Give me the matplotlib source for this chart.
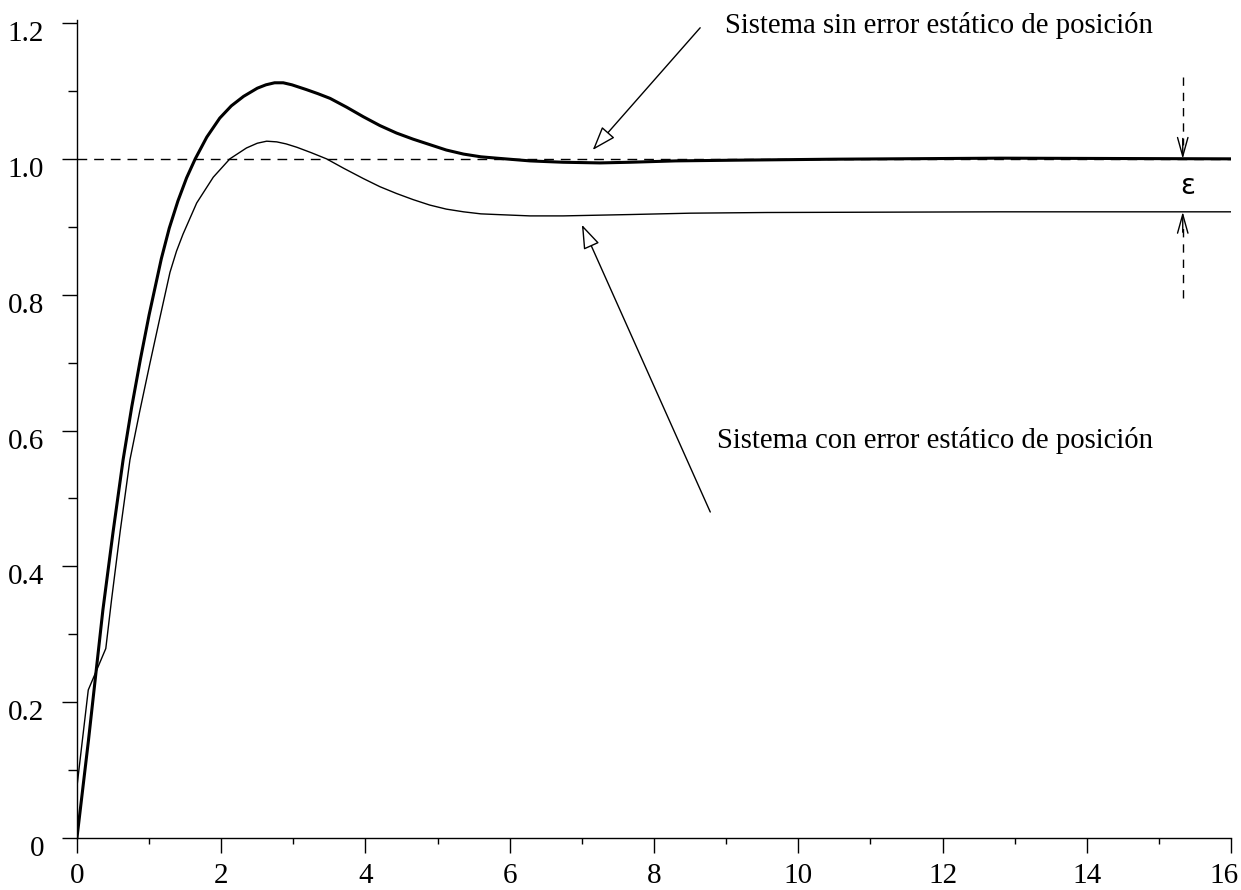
import matplotlib
matplotlib.use("Agg")
import matplotlib.pyplot as plt
import matplotlib.transforms as mtransforms

plt.rcParams['font.family'] = ['Liberation Serif', 'DejaVu Serif']

# respuesta del sistema sin error (trazo grueso)
t_sin = [0, 0.16, 0.36, 0.50, 0.64, 0.76, 0.88, 1.00, 1.17, 1.28, 1.40, 1.52,
         1.64, 1.80, 1.98, 2.14, 2.31, 2.50, 2.62, 2.74, 2.86, 2.98, 3.18, 3.34,
         3.51, 3.74, 3.97, 4.20, 4.43, 4.66, 4.89, 5.12, 5.36, 5.60, 5.82, 6.05,
         6.28, 6.50, 6.74, 7.00, 7.25, 7.67, 8.30, 9.10, 10.5, 12.8, 16]
y_sin = [0, 0.144, 0.336, 0.450, 0.557, 0.635, 0.705, 0.770, 0.853, 0.898, 0.938, 0.972,
         1.000, 1.032, 1.060, 1.078, 1.092, 1.104, 1.109, 1.112, 1.112, 1.109, 1.102, 1.096,
         1.089, 1.076, 1.062, 1.049, 1.038, 1.029, 1.021, 1.013, 1.007, 1.003, 1.001, 0.999,
         0.997, 0.996, 0.995, 0.9945, 0.994, 0.995, 0.997, 0.998, 0.9995, 1.001, 1.0]

# respuesta del sistema con error (trazo fino)
t_con = [0, 0.157, 0.40, 0.48, 0.60, 0.735, 0.87, 1.01, 1.15, 1.29, 1.38, 1.47,
         1.66, 1.89, 2.12, 2.35, 2.50, 2.63, 2.77, 2.90, 3.05, 3.25, 3.46, 3.70,
         3.97, 4.20, 4.43, 4.66, 4.89, 5.12, 5.36, 5.60, 5.82, 6.28, 6.74, 7.20,
         7.67, 8.50, 9.56, 12.8, 16]
y_con = [0.0755, 0.218, 0.279, 0.351, 0.452, 0.557, 0.628, 0.698, 0.766, 0.833, 0.864, 0.889,
         0.935, 0.973, 1.000, 1.016, 1.023, 1.026, 1.025, 1.022, 1.017, 1.009, 1.000, 0.986,
         0.971, 0.959, 0.949, 0.940, 0.932, 0.926, 0.922, 0.919, 0.918, 0.916, 0.916, 0.917,
         0.918, 0.920, 0.921, 0.922, 0.922]

# referencia unitaria
t_ref = [0, 16]
y_ref = [1.0, 1.0]

x_ticks = [0, 2, 4, 6, 8, 10, 12, 14, 16]
y_ticks = [0, 0.2, 0.4, 0.6, 0.8, 1.0, 1.2]
y_tick_labels = ['0', '0.2', '0.4', '0.6', '0.8', '1.0', '1.2']

fig = plt.figure(figsize=(12.41, 8.90), dpi=100)
ax = fig.add_axes([0.062, 0.0584, 0.930, 0.9191])

ax.plot(t_ref, y_ref, color='black', lw=1.0, dashes=(7, 5))
ax.plot(t_con, y_con, color='black', lw=1.0)
ax.plot(t_sin, y_sin, color='black', lw=2.2)

ax.set_xlim(0, 16)
ax.set_ylim(0, 1.2044)
ax.spines['top'].set_visible(False)
ax.spines['right'].set_visible(False)
ax.spines['left'].set_linewidth(1.0)
ax.spines['bottom'].set_linewidth(1.0)

ax.set_xticks(x_ticks)
ax.set_xticklabels([str(v) for v in x_ticks])
ax.set_xticks(range(1, 16, 2), minor=True)
ax.set_yticks(y_ticks)
ax.set_yticklabels(y_tick_labels)
ax.set_yticks([0.1, 0.3, 0.5, 0.7, 0.9, 1.1], minor=True)

ax.tick_params(axis='x', which='major', length=10.8, width=1, pad=7, labelsize=21)
ax.tick_params(axis='x', which='minor', length=4, width=1)
ax.tick_params(axis='y', which='major', length=10.8, width=1, pad=13, labelsize=21)
ax.tick_params(axis='y', which='minor', length=6.5, width=1)

off = mtransforms.ScaledTranslation(0, -8 / 100, fig.dpi_scale_trans)
for lab in ax.get_yticklabels():
    lab.set_transform(lab.get_transform() + off)
# el "16" queda pegado al borde derecho
last = ax.get_xticklabels()[-1]
last.set_transform(last.get_transform()
                   + mtransforms.ScaledTranslation(-7 / 100, 0, fig.dpi_scale_trans))

# anotaciones
head = dict(arrowstyle='-|>,head_length=1.0,head_width=0.35', mutation_scale=15,
            fc='white', ec='black', lw=1.0, shrinkA=0, shrinkB=0)
ax.annotate('', xy=(7.15, 1.013), xytext=(8.64, 1.193), arrowprops=head,
            annotation_clip=False)
ax.annotate('', xy=(7.0, 0.903), xytext=(8.78, 0.48), arrowprops=head)
ax.text(8.98, 1.197, 'Sistema sin error estático de posición', fontsize=20.7,
        va='center', ha='left', clip_on=False)
ax.text(8.87, 0.586, 'Sistema con error estático de posición', fontsize=20.7,
        va='center', ha='left')

# error epsilon
eps_x = 15.33
ax.plot([eps_x, eps_x], [1.12, 1.02], color='black', lw=1.0, dashes=(6, 5))
ax.plot([eps_x, eps_x], [0.795, 0.90], color='black', lw=1.0, dashes=(6, 5))
small = dict(arrowstyle='->,head_length=0.9,head_width=0.25', mutation_scale=15,
             color='black', lw=1.0, shrinkA=0, shrinkB=0)
ax.annotate('', xy=(eps_x, 1.0), xytext=(eps_x, 1.03), arrowprops=small)
ax.annotate('', xy=(eps_x, 0.922), xytext=(eps_x, 0.892), arrowprops=small)
ax.text(eps_x + 0.07, 0.96, 'ε', fontsize=20, family='DejaVu Sans',
        ha='center', va='center')

fig.savefig('out.png', dpi=100)
